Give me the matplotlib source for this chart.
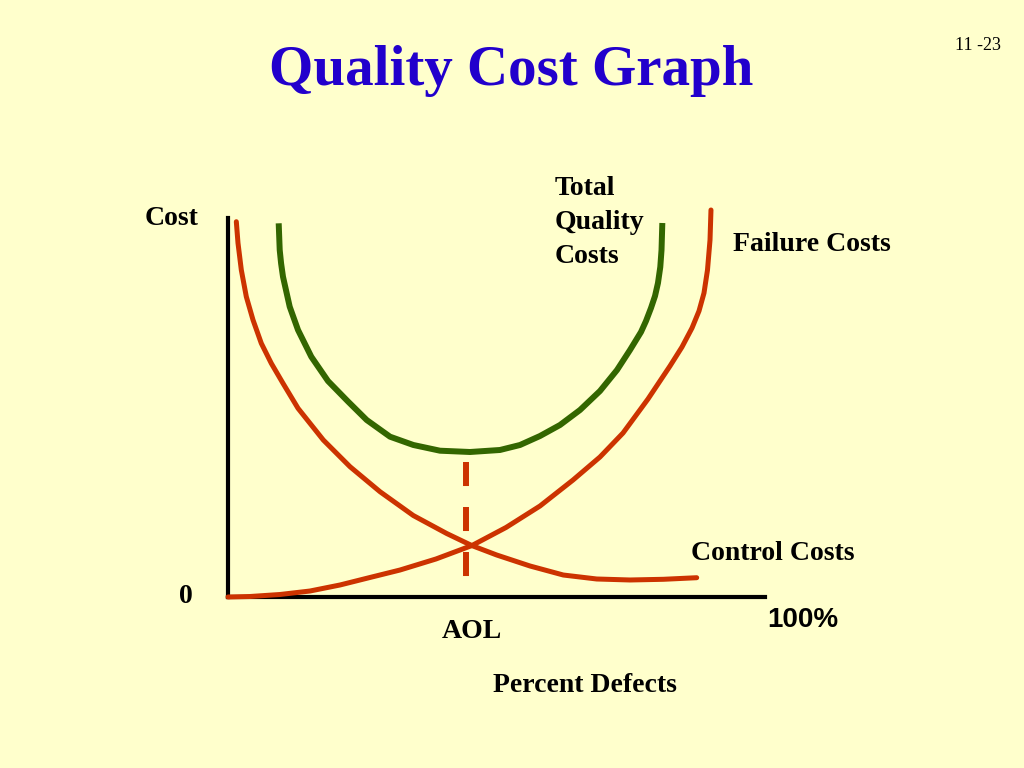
import matplotlib

matplotlib.use("Agg")
import matplotlib.pyplot as plt

# curve samples: x = percent defects (0-100), y = cost (0-100)
control_x = [1.55, 1.86, 2.48, 3.41, 4.66, 6.20, 8.06, 10.24, 13.04, 17.75, 22.72,
             28.31, 34.51, 40.73, 45.38, 50.04, 56.24, 62.44, 68.66, 74.86, 81.06, 87.28]
control_y = [99.02, 93.40, 86.28, 79.24, 73.09, 66.94, 61.66, 56.38, 49.79, 41.42, 34.38,
             27.78, 21.50, 16.75, 13.59, 11.08, 8.18, 5.80, 4.75, 4.49, 4.67, 5.09]

failure_x = [0.0, 4.10, 9.68, 15.27, 20.86, 26.44, 32.03, 38.73, 45.44, 51.77, 58.10, 64.25,
             69.27, 73.56, 78.21, 82.31, 84.54, 86.41, 87.71, 88.64, 89.29, 89.76, 89.94]
failure_y = [0.0, 0.13, 0.66, 1.58, 3.17, 5.15, 7.12, 10.03, 13.59, 18.34, 24.01, 30.87,
             36.94, 43.27, 52.24, 60.95, 65.96, 70.98, 75.46, 80.21, 86.28, 94.20, 102.11]

total_x = [9.44, 9.63, 9.89, 10.24, 11.49, 13.04, 15.51, 18.62, 22.35, 25.83, 30.17, 34.51,
           39.48, 45.07, 50.65, 54.38, 58.10, 61.82, 65.55, 69.27, 72.44, 74.86, 76.91,
           77.84, 78.77, 79.52, 80.07, 80.50, 80.73, 80.88]
total_y = [98.60, 91.56, 88.00, 84.51, 76.60, 70.45, 63.40, 56.99, 51.58, 46.70, 42.30, 40.11,
           38.60, 38.26, 38.79, 40.11, 42.48, 45.38, 49.34, 54.35, 59.89, 65.17, 69.92,
           72.82, 76.25, 79.42, 82.85, 87.07, 91.56, 98.68]

aol_x = 44.32
aol_y = [35.7, 5.36]

BG = "#FFFFCC"
RED = "#CC3300"
GREEN = "#336600"
BLUE = "#2200CC"
SERIF = "Liberation Serif"
SANS = "Liberation Sans"

plt.rcParams["lines.scale_dashes"] = False

fig = plt.figure(figsize=(10.24, 7.68), dpi=100, facecolor=BG)
ax = fig.add_axes([228 / 1024, 171 / 768, 537 / 1024, 379 / 768])
ax.set_facecolor(BG)
ax.set_xlim(0, 100)
ax.set_ylim(0, 100)

ax.plot(control_x, control_y, color=RED, lw=3.6, solid_capstyle="round",
        solid_joinstyle="round", clip_on=False, zorder=3)
ax.plot(failure_x, failure_y, color=RED, lw=3.6, solid_capstyle="round",
        solid_joinstyle="round", clip_on=False, zorder=3)
ax.plot(total_x, total_y, color=GREEN, lw=4.3, solid_capstyle="butt",
        solid_joinstyle="round", clip_on=False, zorder=3)
ax.plot([aol_x, aol_x], aol_y, color=RED, lw=4.3, dashes=(17.3, 15.1),
        dash_capstyle="butt", clip_on=False, zorder=2)

for side in ("top", "right"):
    ax.spines[side].set_visible(False)
for side in ("left", "bottom"):
    ax.spines[side].set_linewidth(3)
    ax.spines[side].set_color("black")
ax.set_xticks([])
ax.set_yticks([])


def label(px, py, text, **kw):
    kw.setdefault("family", SERIF)
    kw.setdefault("weight", "bold")
    kw.setdefault("size", 20)
    kw.setdefault("va", "baseline")
    fig.text(px / 1024, 1 - py / 768, text, **kw)


label(511, 85, "Quality Cost Graph", size=41, color=BLUE, ha="center")
label(955, 50, "11 -23", size=13, weight="normal")
label(145, 225, "Cost")
label(179, 603, "0")
label(555, 195, "Total")
label(555, 229, "Quality")
label(555, 263, "Costs")
label(733, 251, "Failure Costs")
label(691, 560, "Control Costs")
label(767, 627, "100%", family=SANS)
label(442, 638, "AOL")
label(493, 692, "Percent Defects")

fig.savefig("out.png", dpi=100, facecolor=BG)
